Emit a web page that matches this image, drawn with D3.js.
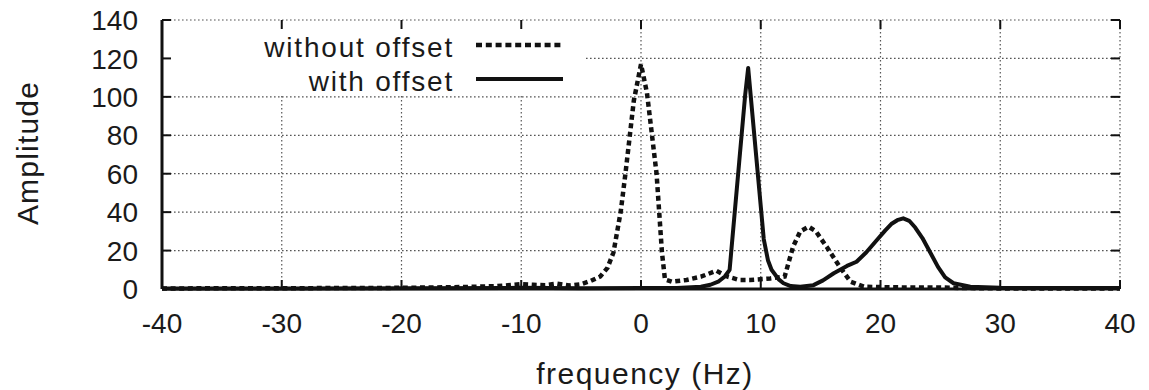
<!DOCTYPE html>
<html>
<head>
<meta charset="utf-8">
<script src="https://cdn.jsdelivr.net/npm/d3@7/dist/d3.min.js"></script>
<style>
  body { margin: 0; background: #fff; }
  svg text { font-family: "Liberation Sans", Arial, sans-serif; fill: #1a1a1a; }
</style>
</head>
<body>
<div id="chart"></div>
<script>
// ---- data ----
const xTicks = [-40, -30, -20, -10, 0, 10, 20, 30, 40];
const yTicks = [0, 20, 40, 60, 80, 100, 120, 140];

// without offset (dashed)
const freqWithout = [-40, -30, -20, -15, -12, -10, -9, -8, -7, -6, -5, -4.2, -3.4, -2.8, -2.3, -1.7, -1.3, -0.6, 0,
  0.5, 1.3, 1.75, 2.0, 2.6, 3.8, 5.0, 6.3, 7.2, 8.2, 9.1, 10.8, 12.0, 12.7, 13.3, 14.0, 14.6, 15.5, 16.6, 17.5, 18.6,
  20, 22, 25, 27, 30, 40];
const ampWithout = [0.3, 0.4, 0.6, 1.0, 1.5, 2.5, 2.2, 2.0, 2.8, 1.8, 2.5, 4.2, 6.5, 11, 19, 40, 60, 98, 117,
  102, 60, 19, 5, 3.8, 4.7, 6.4, 9.5, 6.5, 4.7, 4.7, 5.5, 6.5, 22, 30, 32.4, 30, 22, 11.5, 3.8, 1.2,
  1.0, 0.8, 0.8, 0.5, 0.3, 0.3];

// with offset (solid)
const freqWith = [-40, -30, -20, -10, -5, 0, 3, 5, 5.8, 6.5, 7.0, 7.4, 8.2, 8.7, 8.95, 10.25, 10.6, 10.9,
  11.5, 11.9, 12.5, 13.3, 14.4, 15.2, 16.1, 17.2, 18.0, 18.8, 19.7, 20.4, 20.9, 21.4, 21.9, 22.4, 22.9, 23.5,
  24.2, 24.8, 25.4, 26.1, 27.5, 30, 35, 40];
const ampWith = [0.3, 0.3, 0.4, 0.6, 0.4, 0.5, 0.5, 1.2, 2.2, 4, 6.5, 10, 66, 101, 115, 26, 15, 10,
  5, 3, 1.5, 1.2, 2, 4.5, 8.2, 12, 14.2, 19, 25.5, 30.5, 33.8, 35.8, 36.8, 35.5, 32, 26.5,
  18.5, 11.5, 6, 3, 1.2, 0.6, 0.5, 0.5];

const legendNames = ["without offset", "with offset"];

// ---- layout ----
const W = 1149, H = 390;
const margin = {top: 20, right: 29, bottom: 101, left: 162};
const width = W - margin.left - margin.right;
const height = H - margin.top - margin.bottom;

const svg = d3.select("#chart").append("svg")
    .attr("width", W)
    .attr("height", H);

const g = svg.append("g")
    .attr("transform", `translate(${margin.left},${margin.top})`);

const x = d3.scaleLinear().domain([-40, 40]).range([0, width]);
const y = d3.scaleLinear().domain([0, 140]).range([height, 0]);

const gridColor = "#555";
const gridDash = "1.6,2.4";

// grid lines
g.selectAll(".gx").data(xTicks).enter().append("line")
    .attr("x1", d => x(d)).attr("x2", d => x(d))
    .attr("y1", 0).attr("y2", height)
    .attr("stroke", gridColor).attr("stroke-width", 1.2)
    .attr("stroke-dasharray", gridDash);

g.selectAll(".gy").data(yTicks).enter().append("line")
    .attr("x1", 0).attr("x2", width)
    .attr("y1", d => y(d)).attr("y2", d => y(d))
    .attr("stroke", gridColor).attr("stroke-width", 1.2)
    .attr("stroke-dasharray", gridDash);

// legend box hides the grid under it
g.append("rect")
    .attr("x", 2).attr("y", 1.5)
    .attr("width", 420).attr("height", y(100) - 2.5)
    .attr("fill", "#fff");

// ticks (inward, mirrored)
const tickLen = 9;
g.selectAll(".tb").data(xTicks).enter().append("line")
    .attr("x1", d => x(d)).attr("x2", d => x(d))
    .attr("y1", height).attr("y2", height - tickLen)
    .attr("stroke", "#111").attr("stroke-width", 2);
g.selectAll(".tt").data(xTicks).enter().append("line")
    .attr("x1", d => x(d)).attr("x2", d => x(d))
    .attr("y1", 0).attr("y2", tickLen)
    .attr("stroke", "#111").attr("stroke-width", 2);
g.selectAll(".tl").data(yTicks).enter().append("line")
    .attr("x1", 0).attr("x2", tickLen)
    .attr("y1", d => y(d)).attr("y2", d => y(d))
    .attr("stroke", "#111").attr("stroke-width", 2);
g.selectAll(".tr").data(yTicks).enter().append("line")
    .attr("x1", width).attr("x2", width - tickLen)
    .attr("y1", d => y(d)).attr("y2", d => y(d))
    .attr("stroke", "#111").attr("stroke-width", 2);

// axes lines: left and bottom solid
g.append("line").attr("x1", 0).attr("x2", 0).attr("y1", 0).attr("y2", height)
    .attr("stroke", "#111").attr("stroke-width", 3);
g.append("line").attr("x1", 0).attr("x2", width).attr("y1", height).attr("y2", height)
    .attr("stroke", "#111").attr("stroke-width", 3);

// tick labels
g.selectAll(".xl").data(xTicks).enter().append("text")
    .attr("x", d => x(d)).attr("y", height + 44)
    .attr("text-anchor", "middle")
    .style("font-size", "28px")
    .text(d => d);

g.selectAll(".yl").data(yTicks).enter().append("text")
    .attr("x", -24).attr("y", d => y(d)).attr("dy", "0.36em")
    .attr("text-anchor", "end")
    .style("font-size", "28px")
    .text(d => d);

// axis titles
svg.append("text")
    .attr("x", 645).attr("y", 384)
    .attr("text-anchor", "middle")
    .style("font-size", "30px")
    .style("letter-spacing", "1.5px")
    .text("frequency (Hz)");

svg.append("text")
    .attr("transform", "translate(38,153) rotate(-90)")
    .attr("text-anchor", "middle")
    .style("font-size", "30px")
    .style("letter-spacing", "1.2px")
    .text("Amplitude");

// curves (straight segments, like the original plot)
const line = d3.line()
    .x(d => x(d[0]))
    .y(d => y(d[1]));

const withoutData = freqWithout.map((f, i) => [f, ampWithout[i]]);
const withData = freqWith.map((f, i) => [f, ampWith[i]]);

g.append("path")
    .datum(withoutData)
    .attr("d", line)
    .attr("fill", "none")
    .attr("stroke", "#111")
    .attr("stroke-width", 4.5)
    .attr("stroke-dasharray", "5,3.6");

g.append("path")
    .datum(withData)
    .attr("d", line)
    .attr("fill", "none")
    .attr("stroke", "#111")
    .attr("stroke-width", 4)
    .attr("stroke-linejoin", "round");

// legend
const legend = svg.append("g");
const legendY = [45, 79];
legend.selectAll("text").data(legendNames).enter().append("text")
    .attr("x", 454).attr("y", (d, i) => legendY[i] + 12)
    .attr("text-anchor", "end")
    .style("font-size", "28px")
    .style("letter-spacing", "1.8px")
    .text(d => d);

legend.selectAll("line").data(legendNames).enter().append("line")
    .attr("x1", 476).attr("x2", 563)
    .attr("y1", (d, i) => legendY[i]).attr("y2", (d, i) => legendY[i])
    .attr("stroke", "#111")
    .attr("stroke-width", (d, i) => i === 0 ? 4.5 : 4)
    .attr("stroke-dasharray", (d, i) => i === 0 ? "6,3.8" : null);
</script>
</body>
</html>
